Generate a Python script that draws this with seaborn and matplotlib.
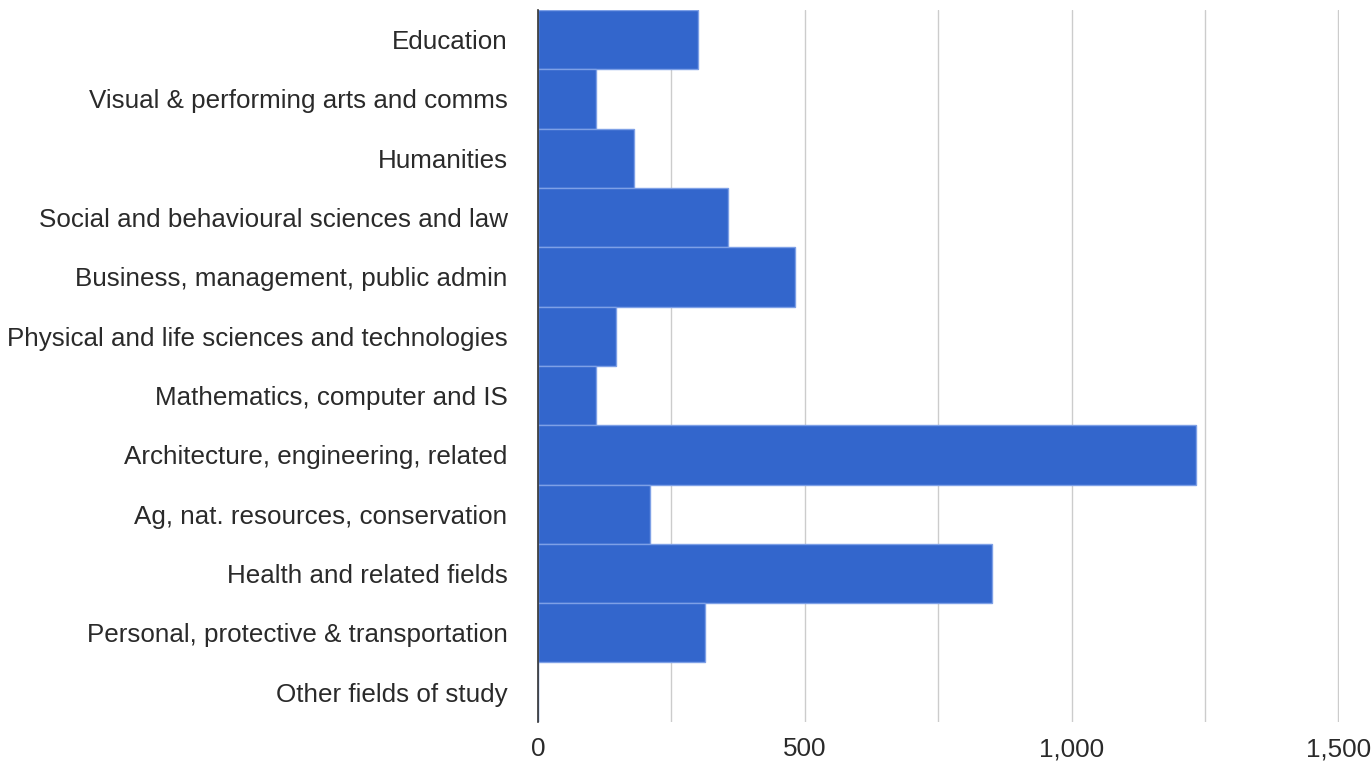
import matplotlib
matplotlib.use("Agg")
import matplotlib.pyplot as plt
import matplotlib.ticker as mticker
import seaborn as sns
import pandas as pd

# Fields of study and counts
fields = [
    "Education",
    "Visual & performing arts and comms",
    "Humanities",
    "Social and behavioural sciences and law",
    "Business, management, public admin",
    "Physical and life sciences and technologies",
    "Mathematics, computer and IS",
    "Architecture, engineering, related",
    "Ag, nat. resources, conservation",
    "Health and related fields",
    "Personal, protective & transportation",
    "Other fields of study",
]
counts = [300, 109, 180, 356, 481, 146, 109, 1234, 210, 851, 312, 0]

df = pd.DataFrame({"Field": fields, "Count": counts})

sns.set_style("white")
plt.rcParams["font.family"] = ["Liberation Sans", "DejaVu Sans"]

fig = plt.figure(figsize=(13.71, 7.63), dpi=100)
ax = fig.add_axes([0.3925, 0.054, 0.5845, 0.933])

sns.barplot(data=df, x="Count", y="Field", orient="h", color="#3366cc",
            saturation=1, width=1.0, edgecolor="#7ea0e6", linewidth=1, ax=ax)

ax.set_xlim(0, 1502)
ax.set_ylim(len(fields) - 0.5, -0.5)
ax.xaxis.set_major_locator(mticker.MultipleLocator(500))
ax.xaxis.set_minor_locator(mticker.MultipleLocator(250))
ax.xaxis.set_major_formatter(mticker.FuncFormatter(lambda v, p: f"{int(v):,}"))
ax.grid(axis="x", which="both", color="#cccccc", linewidth=1)
ax.set_axisbelow(True)
ax.set_xlabel("")
ax.set_ylabel("")
for s in ["top", "right", "bottom"]:
    ax.spines[s].set_visible(False)
ax.spines["left"].set_color("#333333")
ax.spines["left"].set_linewidth(1.2)
ax.tick_params(axis="both", which="both", length=0, labelsize=18.7, labelcolor="#2a2a2a")
ax.tick_params(axis="y", pad=22)
ax.tick_params(axis="x", pad=11)

fig.savefig("out.png", dpi=100)
